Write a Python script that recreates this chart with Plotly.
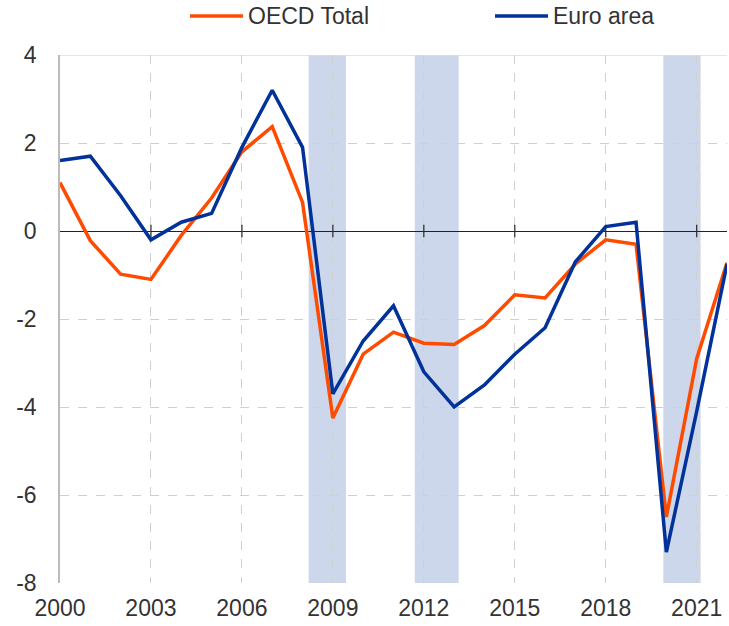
import plotly.graph_objects as go

years = list(range(2000, 2023))
oecd = [1.1, -0.22, -0.98, -1.1, -0.1, 0.75, 1.8, 2.37, 0.65, -4.25, -2.8, -2.3, -2.55, -2.58,
        -2.15, -1.45, -1.52, -0.75, -0.2, -0.3, -6.5, -2.9, -0.72]
euro = [1.6, 1.7, 0.8, -0.2, 0.2, 0.4, 1.9, 3.2, 1.9, -3.7, -2.5, -1.7, -3.2, -4.0,
        -3.5, -2.8, -2.2, -0.7, 0.1, 0.2, -7.3, -4.1, -0.75]
bands = [(2008.2, 2009.43), (2011.7, 2013.15), (2019.9, 2021.13)]
xticks = [2000, 2003, 2006, 2009, 2012, 2015, 2018, 2021]
yticks = [-8, -6, -4, -2, 0, 2, 4]
series_names = ["OECD Total", "Euro area"]
series_colors = ["#FF4B00", "#003299"]

FONT = "Liberation Sans, Arial, sans-serif"
FS = 23

fig = go.Figure()
for x0, x1 in bands:
    fig.add_vrect(x0=x0, x1=x1, fillcolor="#CDD7EB", line_width=0, layer="below")

fig.add_trace(go.Scatter(x=xticks[1:], y=[0] * (len(xticks) - 1), mode="markers",
                         marker=dict(symbol="line-ns", size=9, line=dict(color="#333333", width=1.3)),
                         showlegend=False, hoverinfo="skip"))
for name, vals, col in zip(series_names, [oecd, euro], series_colors):
    fig.add_trace(go.Scatter(x=years, y=vals, mode="lines", name=name,
                             line=dict(color=col, width=3.5), showlegend=False))

fig.add_shape(type="line", xref="paper", yref="y", x0=0, x1=1, y0=4, y1=4,
              line=dict(color="#DDDDDD", width=1.5), layer="below")

# custom legend (long line samples, as in the reference)
leg_y = 1.0738
for (lx0, lx1, tx), name, col in zip([(0.1949, 0.2744, 0.2794), (0.6522, 0.7316, 0.7366)],
                                     series_names, series_colors):
    fig.add_shape(type="line", xref="paper", yref="paper", x0=lx0, x1=lx1, y0=leg_y, y1=leg_y,
                  line=dict(color=col, width=3.5))
    fig.add_annotation(xref="paper", yref="paper", x=tx, y=leg_y, text=name, showarrow=False,
                       xanchor="left", yanchor="middle", font=dict(size=FS, color="#333333", family=FONT))

fig.update_layout(
    width=729, height=626,
    margin=dict(l=60, r=2, t=55, b=43),
    plot_bgcolor="white", paper_bgcolor="white",
    font=dict(family=FONT, size=FS, color="#333333"),
    showlegend=False,
    xaxis=dict(range=[2000, 2022], tickvals=xticks, ticktext=[str(v) for v in xticks],
               showgrid=True, gridcolor="#D0D0D0",
               griddash="dash", gridwidth=1, zeroline=False, showline=False, ticks="",
               tickfont=dict(size=FS), ticklabelstandoff=9),
    yaxis=dict(range=[-8, 4], tickvals=yticks, ticktext=[str(v) for v in yticks],
               showgrid=True, gridcolor="#D0D0D0",
               griddash="dash", gridwidth=1, zeroline=True, zerolinecolor="#222222",
               zerolinewidth=1.2, showline=True, linecolor="#BBBBBB", linewidth=1.5,
               ticks="", tickfont=dict(size=FS), ticklabelstandoff=17),
)
fig.write_html("out.html", config={"displayModeBar": False},
               post_script="document.body.style.margin='0';document.body.style.overflow='hidden';")
